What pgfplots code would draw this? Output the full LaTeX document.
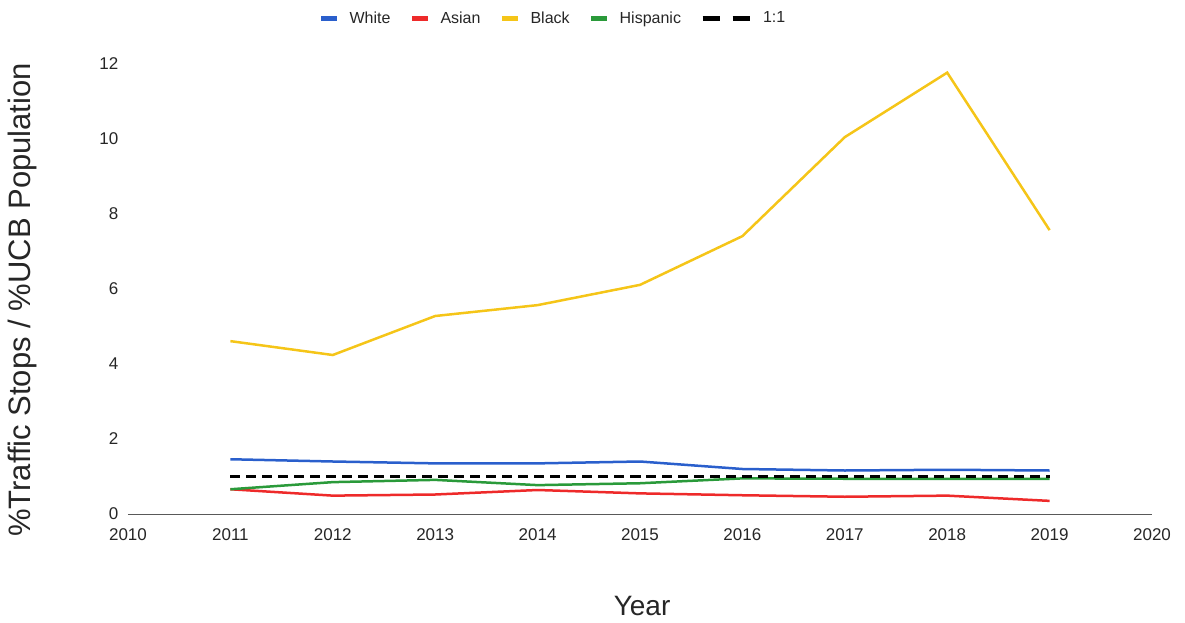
\documentclass[border=0pt]{standalone}
\usepackage{pgfplots}
\pgfplotsset{compat=1.18}
\usepackage{fontspec}
\setmainfont{Liberation Sans}

\definecolor{cwhite}{HTML}{2A5FCC}
\definecolor{casian}{HTML}{EE2A2A}
\definecolor{cblack}{HTML}{F5C518}
\definecolor{chisp}{HTML}{2A9A3A}

\begin{document}
\begin{tikzpicture}
\useasboundingbox (-128pt,-108pt) rectangle (1057pt,514pt);
\begin{axis}[
    scale only axis,
    width=1024pt, height=450pt,
    xmin=2010, xmax=2020,
    ymin=0, ymax=12,
    xtick={2010,2011,...,2020},
    ytick={0,2,...,12},
    xticklabel style={/pgf/number format/1000 sep={}},
    /pgf/number format/assume math mode=true,
    tick style={draw=none},
    ticklabel style={font=\fontsize{17}{17}\selectfont, text=black!85},
    xticklabel style={yshift=-9pt},
    yticklabel style={xshift=-4pt},
    axis x line=bottom,
    axis y line=left,
    x axis line style={draw=black!65, line width=1pt, -},
    y axis line style={draw=none},
    clip=false,
    xlabel={Year},
    ylabel={\%Traffic Stops / \%UCB Population},
    every axis x label/.style={at={(0.502,-0.2044)}, anchor=center,
        font=\fontsize{28}{28}\selectfont, text=black!85},
    every axis y label/.style={at={(-0.1035,0.4756)}, rotate=90, anchor=center,
        font=\fontsize{31}{31}\selectfont, text=black!85},
    legend columns=-1,
    legend style={draw=none, fill=none, at={(0.415,1.102)}, anchor=center,
        font=\fontsize{16}{16}\selectfont, text=black!85,
        /tikz/every odd column/.append style={column sep=8pt},
        /tikz/every even column/.append style={column sep=17pt}},
    legend image code/.code={\draw[#1, line width=5pt, solid] (0pt,0pt) -- (16pt,0pt);},
]
\addplot[cwhite, line width=2.5pt] coordinates {
    (2011,1.46) (2012,1.40) (2013,1.35) (2014,1.35) (2015,1.40)
    (2016,1.20) (2017,1.16) (2018,1.18) (2019,1.16)};
\addlegendentry{White}
\addplot[casian, line width=2.5pt] coordinates {
    (2011,0.66) (2012,0.49) (2013,0.52) (2014,0.64) (2015,0.55)
    (2016,0.50) (2017,0.46) (2018,0.49) (2019,0.35)};
\addlegendentry{Asian}
\addplot[cblack, line width=2.5pt] coordinates {
    (2011,4.61) (2012,4.24) (2013,5.28) (2014,5.57) (2015,6.11)
    (2016,7.41) (2017,10.05) (2018,11.77) (2019,7.57)};
\addlegendentry{Black}
\addplot[chisp, line width=2.5pt] coordinates {
    (2011,0.66) (2012,0.85) (2013,0.91) (2014,0.77) (2015,0.82)
    (2016,0.95) (2017,0.94) (2018,0.94) (2019,0.94)};
\addlegendentry{Hispanic}
\addplot[black, line width=2.5pt, dash pattern=on 10pt off 6pt,
    legend image code/.code={\draw[black, line width=5pt, dash pattern=on 17pt off 13pt] (0pt,0pt) -- (48pt,0pt);}]
    coordinates {(2011,1) (2012,1) (2013,1) (2014,1) (2015,1)
    (2016,1) (2017,1) (2018,1) (2019,1)};
\addlegendentry{1:1}
\end{axis}
\end{tikzpicture}
\end{document}
